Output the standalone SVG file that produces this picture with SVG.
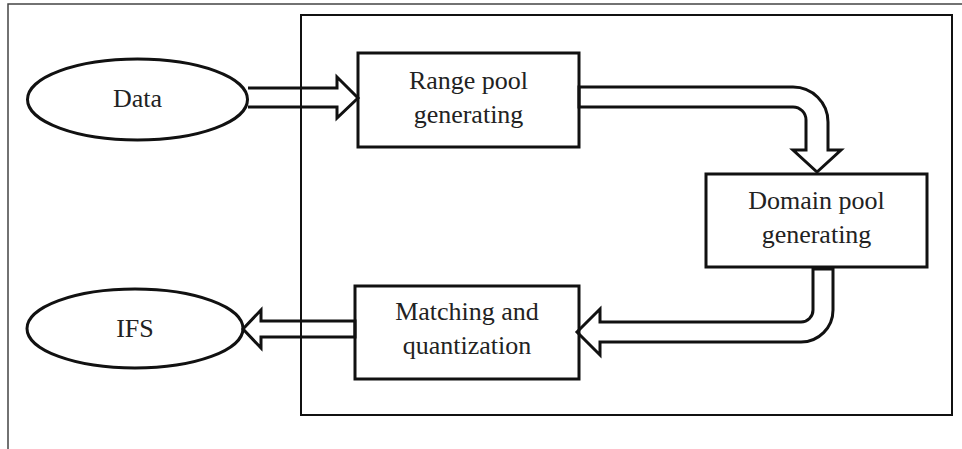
<svg xmlns="http://www.w3.org/2000/svg" width="962" height="449" viewBox="0 0 962 449">
<style>
  .frame{fill:none;stroke:#444;stroke-width:1.5}
  .inner{fill:none;stroke:#111;stroke-width:2}
  .node{fill:#fff;stroke:#111;stroke-width:3}
  .arrow{fill:none;stroke:#111;stroke-width:3;stroke-linejoin:miter}
  text{font-family:"Liberation Serif","Times New Roman",serif;font-size:26px;fill:#222;text-anchor:middle}
</style>
<rect width="962" height="449" fill="#fff"/>
<path class="frame" d="M8,449 V4 H962"/>
<rect class="inner" x="301" y="15" width="651" height="400"/>
<g id="n-data"><ellipse class="node" cx="137.5" cy="99.5" rx="110" ry="40.5"/><text x="137.5" y="107">Data</text></g>
<g id="n-ifs"><ellipse class="node" cx="135" cy="328.5" rx="108" ry="39.5"/><text x="135" y="337">IFS</text></g>
<g id="n-range"><rect class="node" x="358" y="53" width="221" height="94"/><text x="468.5" y="89">Range pool</text><text x="468.5" y="123">generating</text></g>
<g id="n-domain"><rect class="node" x="706" y="174" width="221" height="93"/><text x="816.5" y="209">Domain pool</text><text x="816.5" y="243">generating</text></g>
<g id="n-match"><rect class="node" x="355" y="286" width="224" height="93"/><text x="467" y="320">Matching and</text><text x="467" y="354">quantization</text></g>
<g id="connectors">
  <path class="arrow" d="M248,88 H337 V77 L358,98 L337,118 V107 H248"/>
  <path class="arrow" d="M579,87 H793 A35,35 0 0 1 828,122 V150 H841 L817,172 L793,150 H806 V120 A13,13 0 0 0 793,107 H579 Z"/>
  <path class="arrow" d="M813,269 V310 A12,12 0 0 1 801,322 H600 V309 L577,332 L600,355 V342 H801 A32,32 0 0 0 833,310 V269 Z"/>
  <path class="arrow" d="M355,321 H261 V310 L243,329 L261,348 V337 H355 Z"/>
</g>
</svg>
